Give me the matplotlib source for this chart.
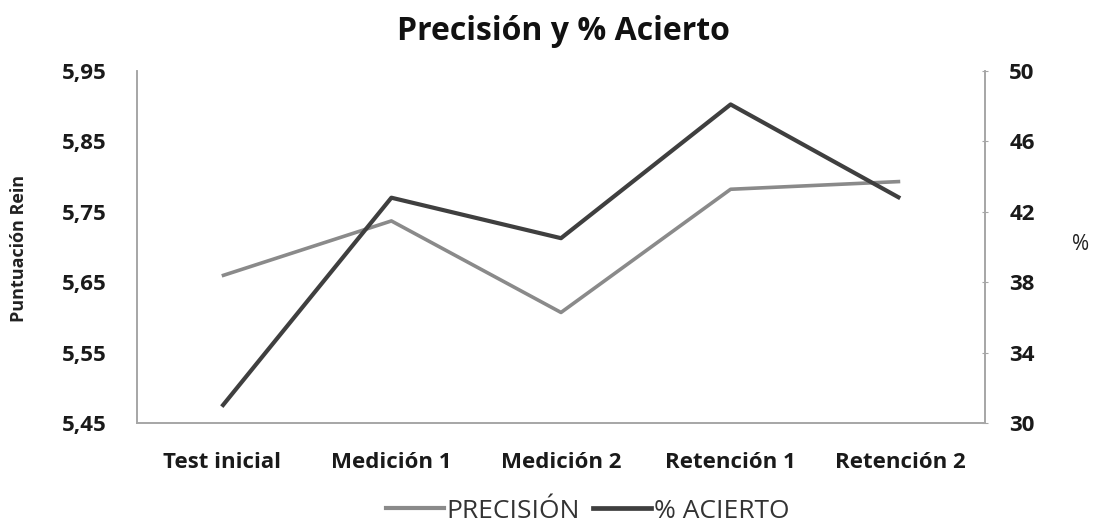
import matplotlib
matplotlib.use("Agg")
import matplotlib.pyplot as plt
from matplotlib.ticker import FuncFormatter
from matplotlib.lines import Line2D

plt.rcParams['font.family'] = ['Open Sans', 'DejaVu Sans']

# datos
categorias = ["Test inicial", "Medición 1", "Medición 2", "Retención 1", "Retención 2"]
precision = [5.659, 5.737, 5.607, 5.782, 5.793]
acierto = [30.93, 42.8, 40.5, 48.1, 42.77]
ticks_izq = [5.45, 5.55, 5.65, 5.75, 5.85, 5.95]
ticks_der = [30, 34, 38, 42, 46, 50]

gris = "#8a8a8a"
oscuro = "#3f3f3f"
eje = "#a6a6a6"

fig = plt.figure(figsize=(10.94, 5.29), dpi=100)
ax = fig.add_axes([0.1252, 0.2004, 0.7752, 0.6654])
ax2 = ax.twinx()

x = list(range(len(categorias)))
ax.plot(x, precision, color=gris, lw=2.6, solid_capstyle="butt", zorder=2)
ax2.plot(x, acierto, color=oscuro, lw=3.0, solid_capstyle="butt", zorder=3)

ax.set_xlim(-0.5, len(categorias) - 0.5)
ax.set_ylim(5.45, 5.95)
ax2.set_ylim(30, 50)
ax.set_yticks(ticks_izq)
ax2.set_yticks(ticks_der)
ax.yaxis.set_major_formatter(FuncFormatter(lambda v, p: f"{v:.2f}".replace(".", ",")))
ax.set_xticks(x)
ax.set_xticklabels(categorias, fontsize=16, fontweight="bold", color="#1a1a1a")

for a in (ax, ax2):
    a.spines["top"].set_visible(False)
    for s in ("left", "right", "bottom"):
        a.spines[s].set_color(eje)
        a.spines[s].set_linewidth(1.2)

ax.tick_params(axis="x", length=0, pad=21)
ax.tick_params(axis="y", length=0, pad=22, labelsize=16, labelcolor="#1a1a1a")
for lab in ax.get_yticklabels():
    lab.set_fontweight("bold")
ax2.tick_params(axis="y", length=5, direction="inout", color=eje, pad=15,
                labelsize=16, labelcolor="#1a1a1a")
for lab in ax2.get_yticklabels():
    lab.set_fontweight("bold")

fig.text(0.017, 0.53, "Puntuación Rein", rotation=90, fontsize=13, fontweight="bold",
         ha="center", va="center", color="#222222")
fig.text(0.988, 0.537, "%", fontsize=15, ha="center", va="center", color="#222222")

fig.suptitle("Precisión y % Acierto", x=0.515, y=0.972, fontsize=23, fontweight="bold", color="#111111")

handles = [Line2D([], [], color=gris, lw=3), Line2D([], [], color=oscuro, lw=3.4)]
fig.legend(handles, ["PRECISIÓN", "% ACIERTO"], loc="center", bbox_to_anchor=(0.537, 0.034),
           ncol=2, frameon=False, handlelength=2.2, handletextpad=0.1,
           columnspacing=0.5, labelcolor="#333333",
           prop={"size": 19})

fig.savefig("out.png", dpi=100)
